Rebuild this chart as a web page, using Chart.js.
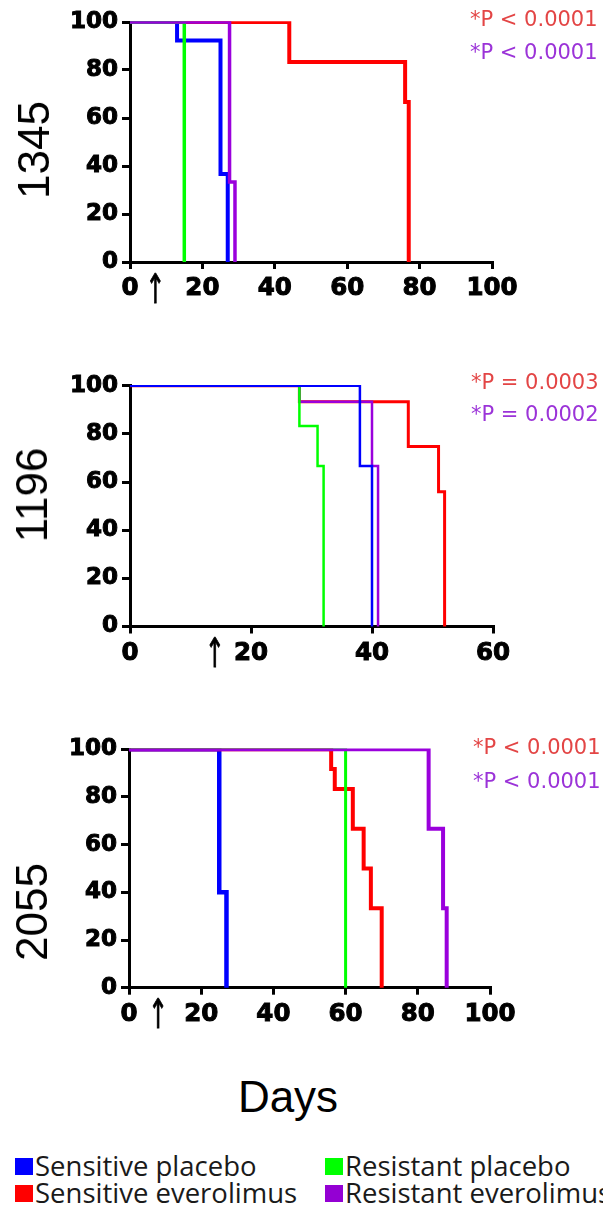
<!DOCTYPE html>
<html>
<head>
<meta charset="utf-8">
<title>Survival by tumour line</title>
<script src="https://cdn.jsdelivr.net/npm/chart.js@4.4.1/dist/chart.umd.min.js"></script>
<style>
  body { margin: 0; background: #fff; }
  #page { position: relative; width: 603px; height: 1220px; overflow: hidden; background: #fff; }
  #page canvas { position: absolute; left: 0; }
  .line-name {
    position: absolute;
    font: 44px "Liberation Sans", Arial, sans-serif;
    color: #000;
    white-space: nowrap;
    transform: translate(-50%, -50%) rotate(-90deg);
  }
  #days {
    position: absolute;
    left: 288px;
    top: 1075px;
    font: 44px/44px "Liberation Sans", Arial, sans-serif;
    color: #000;
    transform: translateX(-50%);
  }
  .swatch { position: absolute; width: 18px; height: 17px; }
  .legend-text {
    position: absolute;
    font: 27.5px/28px "Open Sans", sans-serif;
    color: #1a1a1a;
    white-space: nowrap;
  }
</style>
</head>
<body>
<div id="page">
  <canvas id="c1345" width="603" height="320" style="top:0px"></canvas>
  <canvas id="c1196" width="603" height="320" style="top:360px"></canvas>
  <canvas id="c2055" width="603" height="320" style="top:725px"></canvas>
  <div id="days">Days</div>
</div>
<script>
// survival (%) against days: [day, percent] at each step of the curve
const s1345_sensPlacebo    = [[0, 100], [13, 92.3], [25, 36.7], [27, 0]];
const s1345_sensEverolimus = [[0, 100], [44, 83.3], [76, 66.7], [77, 0]];
const s1345_resPlacebo     = [[0, 100], [15, 0]];
const s1345_resEverolimus  = [[0, 100], [27.5, 33.3], [29, 0]];

const s1196_sensPlacebo    = [[0, 100], [38, 66.7], [40, 0]];
const s1196_sensEverolimus = [[0, 100], [28, 93.3], [46, 74.7], [51, 56], [52, 0]];
const s1196_resPlacebo     = [[0, 100], [28, 83.3], [31, 66.7], [32, 0]];
const s1196_resEverolimus  = [[0, 100], [28, 93.3], [40, 66.7], [41, 0]];

const s2055_sensPlacebo    = [[0, 100], [25, 40], [27, 0]];
const s2055_sensEverolimus = [[0, 100], [56, 91.7], [57, 83.3], [62, 66.7], [65, 50], [67, 33.3], [70, 0]];
const s2055_resPlacebo     = [[0, 100], [60, 0]];
const s2055_resEverolimus  = [[0, 100], [83, 66.7], [87, 33.3], [88, 0]];

const groups = ['Sensitive placebo', 'Sensitive everolimus', 'Resistant placebo', 'Resistant everolimus'];
const tumourLines = ['1345', '1196', '2055'];
const pSensitive = ['*P < 0.0001', '*P = 0.0003', '*P < 0.0001'];
const pResistant = ['*P < 0.0001', '*P = 0.0002', '*P < 0.0001'];
const treatmentDay = [7, 14, 8];
const dayTicks1345 = [0, 20, 40, 60, 80, 100];
const dayTicks1196 = [0, 20, 40, 60];
const dayTicks2055 = [0, 20, 40, 60, 80, 100];
const percentTicks = [0, 20, 40, 60, 80, 100];

// styling
const groupColors = ['#0000ff', '#ff0000', '#00ff00', '#9a00dc'];
const legendColors = ['#0000ff', '#ff0000', '#00ff00', '#9400d3'];
const pColors = ['#e34545', '#9b33d8'];

const panels = [
  { id: 'c1345', series: [s1345_sensPlacebo, s1345_sensEverolimus, s1345_resPlacebo, s1345_resEverolimus],
    ticks: dayTicks1345, top: 22, bottom: 18, right: 111, yWidth: 130,
    widths: [4, 4, 3.5, 3.5], layer: [2, 3, 1, 0], pLeft: 470, pDy: [-1, 32],
    nameAt: [34, 150] },
  { id: 'c1196', series: [s1196_sensPlacebo, s1196_sensEverolimus, s1196_resPlacebo, s1196_resEverolimus],
    ticks: dayTicks1196, top: 25.7, bottom: 13.5, right: 110, yWidth: 130,
    widths: [2.5, 3, 2.5, 2.5], layer: [0, 3, 1, 2], pLeft: 471, pDy: [-2, 30],
    nameAt: [32, 495] },
  { id: 'c2055', series: [s2055_sensPlacebo, s2055_sensEverolimus, s2055_resPlacebo, s2055_resEverolimus],
    ticks: dayTicks2055, top: 24.3, bottom: 17.3, right: 113, yWidth: 129,
    widths: [4.5, 4, 3, 4], layer: [3, 2, 1, 0], pLeft: 473, pDy: [-1, 33],
    nameAt: [32, 912] }
];

// arrow for treatment start and the two p-values
const panelNotes = {
  id: 'panelNotes',
  afterDraw(chart, args, opts) {
    const ctx = chart.ctx;
    const area = chart.chartArea;
    const xs = chart.scales.x;
    ctx.save();
    ctx.translate(xs.getPixelForValue(opts.arrowDay), area.bottom + 30);
    ctx.scale(0.85, 1.45);
    ctx.fillStyle = '#000';
    ctx.strokeStyle = '#000';
    ctx.lineWidth = 0.6;
    ctx.font = '28px "DejaVu Sans"';
    ctx.textAlign = 'center';
    ctx.textBaseline = 'middle';
    ctx.fillText('\u2191', 0, 0);
    ctx.strokeText('\u2191', 0, 0);
    ctx.restore();

    ctx.save();
    ctx.font = '21px "DejaVu Sans"';
    ctx.textAlign = 'left';
    ctx.textBaseline = 'middle';
    opts.pValues.forEach((t, i) => {
      ctx.fillStyle = pColors[i];
      ctx.fillText(t, opts.pLeft, area.top + opts.pDy[i]);
    });
    ctx.restore();
  }
};

panels.forEach((p, k) => {
  const datasets = p.series.map((pts, i) => ({
    label: groups[i],
    data: pts.map(d => ({ x: d[0], y: d[1] })),
    borderColor: groupColors[i],
    borderWidth: p.widths[i],
    stepped: 'before',
    pointRadius: 0,
    fill: false,
    // curves sitting on the 100% line are trimmed by the top edge
    clip: { left: false, top: 0.8, right: false, bottom: false },
    order: p.layer[i],
    borderCapStyle: 'butt',
    borderJoinStyle: 'miter'
  }));

  new Chart(document.getElementById(p.id), {
    type: 'line',
    data: { datasets },
    plugins: [panelNotes],
    options: {
      responsive: false,
      animation: false,
      devicePixelRatio: 1,
      layout: { padding: { left: 0, top: p.top, right: p.right, bottom: p.bottom } },
      plugins: {
        legend: { display: false },
        tooltip: { enabled: false },
        panelNotes: {
          arrowDay: treatmentDay[k],
          pValues: [pSensitive[k], pResistant[k]],
          pLeft: p.pLeft,
          pDy: p.pDy
        }
      },
      scales: {
        x: {
          type: 'linear',
          min: p.ticks[0],
          max: p.ticks[p.ticks.length - 1],
          afterBuildTicks: s => { s.ticks = p.ticks.map(v => ({ value: v })); },
          afterFit: s => { s.height = 40; },
          grid: { display: true, drawOnChartArea: false, drawTicks: true, tickLength: 7, color: '#000', lineWidth: 3 },
          border: { display: true, color: '#000', width: 3 },
          ticks: {
            color: '#000', padding: 5, maxRotation: 0,
            textStrokeColor: '#000', textStrokeWidth: 1,
            font: { family: 'DejaVu Sans', size: 24.5, weight: 'bold' }
          }
        },
        y: {
          type: 'linear',
          min: 0,
          max: 100,
          afterBuildTicks: s => { s.ticks = percentTicks.map(v => ({ value: v })); },
          afterFit: s => { s.width = p.yWidth; },
          grid: { display: true, drawOnChartArea: false, drawTicks: true, tickLength: 8, color: '#000', lineWidth: 3 },
          border: { display: true, color: '#000', width: 3 },
          ticks: {
            color: '#000', padding: 4,
            textStrokeColor: '#000', textStrokeWidth: 1,
            font: { family: 'DejaVu Sans', size: 23, weight: 'bold' }
          }
        }
      }
    }
  });

  const name = document.createElement('div');
  name.className = 'line-name';
  name.textContent = tumourLines[k];
  name.style.left = p.nameAt[0] + 'px';
  name.style.top = p.nameAt[1] + 'px';
  document.getElementById('page').appendChild(name);
});

// legend: two columns, two rows
const legendSlots = [[15, 1158], [15, 1185], [325, 1158], [325, 1185]];
groups.forEach((g, i) => {
  const page = document.getElementById('page');
  const sw = document.createElement('div');
  sw.className = 'swatch';
  sw.style.background = legendColors[i];
  sw.style.left = legendSlots[i][0] + 'px';
  sw.style.top = legendSlots[i][1] + 'px';
  page.appendChild(sw);
  const tx = document.createElement('div');
  tx.className = 'legend-text';
  tx.textContent = g;
  tx.style.left = (legendSlots[i][0] + 20) + 'px';
  tx.style.top = (legendSlots[i][1] - 6) + 'px';
  page.appendChild(tx);
});
</script>
</body>
</html>
